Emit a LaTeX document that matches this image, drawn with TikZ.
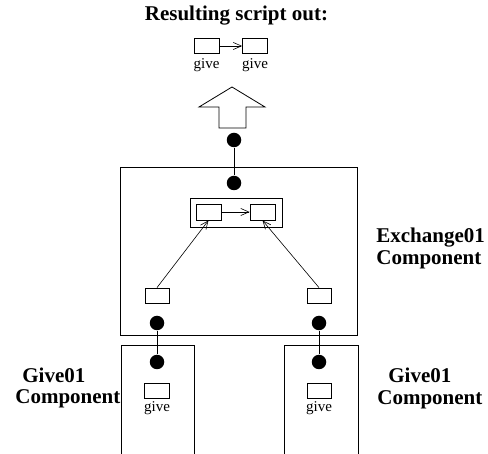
\documentclass[tikz,border=0pt]{standalone}
\usepackage{fontspec}
\setmainfont{Liberation Serif}
\usetikzlibrary{arrows.meta}
\begin{document}
\begin{tikzpicture}[x=1pt, y=-1pt, line width=0.8pt,
  slot/.style={draw, rectangle, minimum width=25pt, minimum height=15pt, inner sep=0pt},
  frame/.style={draw, rectangle, inner sep=0pt},
  port/.style={circle, fill=black, minimum size=14.5pt, inner sep=0pt},
  heading/.style={font=\fontsize{21}{25}\selectfont\bfseries, inner sep=0pt},
  tag/.style={font=\fontsize{15}{18}\selectfont, inner sep=0pt, anchor=base},
  flow/.style={-{Straight Barb[length=8pt,width=7pt]}, line width=0.6pt},
  wire/.style={line width=0.8pt}]
\useasboundingbox (0,0) rectangle (488,454);

% resulting script at the top
\node[heading, anchor=base] (title) at (236.5,21) {Resulting script out:};
\node[slot] (r1) at (206.5,46) {};
\node[slot] (r2) at (255,46) {};
\draw[flow] (r1) -- (r2);
\node[tag] (rg1) at (206.5,69) {give};
\node[tag] (rg2) at (255,69) {give};

% hollow output arrow
\draw (232,87) -- (265,107) -- (246,107) -- (246,128) -- (219,128)
      -- (219,107) -- (199,107) -- cycle;

% exchange component
\node[frame, minimum width=237pt, minimum height=168pt] (exch) at (238.5,251) {};
\node[port] (pout) at (234,140) {};
\node[port] (pin) at (234,183) {};
\draw[wire] (pout) -- (pin);
\node[frame, minimum width=92pt, minimum height=29pt] (pair) at (236,212.5) {};
\node[slot, minimum height=16pt] (in1) at (208.5,212) {};
\node[slot, minimum height=16pt] (in2) at (262.5,212) {};
\draw[flow] (in1) -- (in2);
\node[slot, minimum width=24pt] (lo1) at (157,295.5) {};
\node[slot, minimum width=24pt] (lo2) at (319,295.5) {};
\draw[flow] (lo1.north) -- (in1.south);
\draw[flow] (lo2.north) -- (in2.south);
\node[port] (pl) at (157,323) {};
\node[port] (pr) at (319,323) {};

\node[heading, anchor=base west] (ex1) at (376,243) {Exchange01};
\node[heading, anchor=base west] (ex2) at (376,265) {Component};

% give components below
\draw (121,454) -- (121,345) -- (194,345) -- (194,454);
\draw (284,454) -- (284,345) -- (358,345) -- (358,454);
\node[port] (gl) at (157,362) {};
\node[port] (gr) at (319,362) {};
\draw[wire] (pl) -- (gl);
\draw[wire] (pr) -- (gr);
\node[slot] (gs1) at (156.5,390.5) {};
\node[slot, minimum width=24pt] (gs2) at (319,390.5) {};
\node[tag] (gt1) at (157,412) {give};
\node[tag] (gt2) at (319,412) {give};

\node[heading, anchor=base west] (gl1) at (22,383) {Give01};
\node[heading, anchor=base west] (gl2) at (15,404) {Component};
\node[heading, anchor=base west] (gr1) at (388,383) {Give01};
\node[heading, anchor=base west] (gr2) at (377,405) {Component};
\end{tikzpicture}
\end{document}
